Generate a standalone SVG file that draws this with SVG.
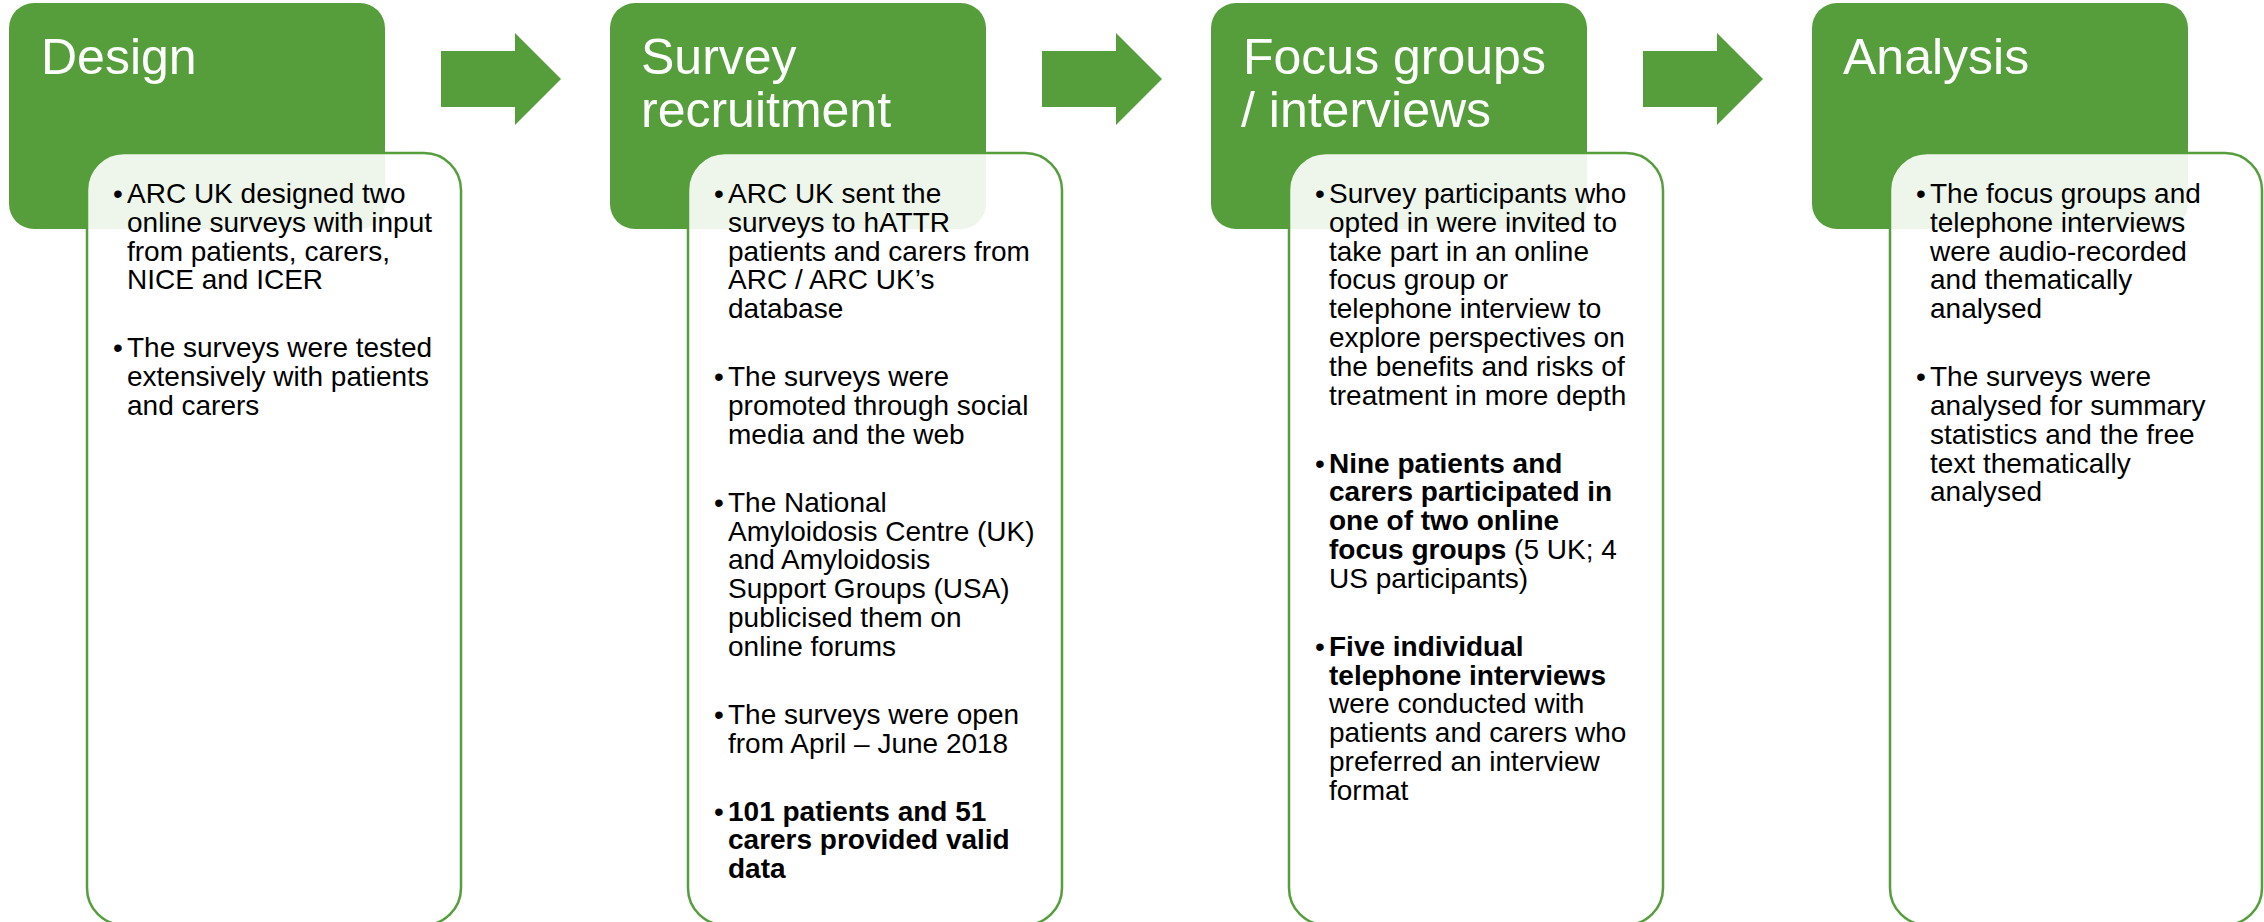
<svg xmlns="http://www.w3.org/2000/svg" width="2264" height="922" viewBox="0 0 2264 922">
<style>
.hdr{fill:#559e3b}
.card{fill:#ffffff;fill-opacity:0.9;stroke:#559e3b;stroke-width:2.5}
.arr{fill:#559e3b}
.ht{font-family:"Liberation Sans",Arial,sans-serif;font-size:50px;fill:#ffffff}
.bt{font-family:"Liberation Sans",Arial,sans-serif;font-size:28px;fill:#000000}
.b{font-weight:bold}
</style>
<rect width="2264" height="922" fill="#ffffff"/>
<g id="connectors">
<polygon class="arr" points="441,51 515,51 515,33 561,79 515,125 515,107 441,107"/>
<polygon class="arr" points="1042,51 1116,51 1116,33 1162,79 1116,125 1116,107 1042,107"/>
<polygon class="arr" points="1643,51 1717,51 1717,33 1763,79 1717,125 1717,107 1643,107"/>
</g>
<g id="design">
<rect class="hdr" x="9" y="3" width="376" height="226" rx="25"/>
<text class="ht" x="41" y="74">Design</text>
<rect class="card" x="87" y="153" width="374" height="772" rx="37"/>
<text class="bt" x="113" y="203">•</text>
<text class="bt"><tspan x="127" y="203">ARC UK designed two</tspan><tspan x="127" y="231.8">online surveys with input</tspan><tspan x="127" y="260.6">from patients, carers,</tspan><tspan x="127" y="289.4">NICE and ICER</tspan></text>
<text class="bt" x="113" y="357.4">•</text>
<text class="bt"><tspan x="127" y="357.4">The surveys were tested</tspan><tspan x="127" y="386.2">extensively with patients</tspan><tspan x="127" y="415">and carers</tspan></text>
</g>
<g id="survey-recruitment">
<rect class="hdr" x="610" y="3" width="376" height="226" rx="25"/>
<text class="ht"><tspan x="641" y="74">Survey</tspan><tspan x="641" y="127">recruitment</tspan></text>
<rect class="card" x="688" y="153" width="374" height="772" rx="37"/>
<text class="bt" x="714" y="203">•</text>
<text class="bt"><tspan x="728" y="203">ARC UK sent the</tspan><tspan x="728" y="231.8">surveys to hATTR</tspan><tspan x="728" y="260.6">patients and carers from</tspan><tspan x="728" y="289.4">ARC / ARC UK’s</tspan><tspan x="728" y="318.2">database</tspan></text>
<text class="bt" x="714" y="386.2">•</text>
<text class="bt"><tspan x="728" y="386.2">The surveys were</tspan><tspan x="728" y="415">promoted through social</tspan><tspan x="728" y="443.8">media and the web</tspan></text>
<text class="bt" x="714" y="511.8">•</text>
<text class="bt"><tspan x="728" y="511.8">The National</tspan><tspan x="728" y="540.6">Amyloidosis Centre (UK)</tspan><tspan x="728" y="569.4">and Amyloidosis</tspan><tspan x="728" y="598.2">Support Groups (USA)</tspan><tspan x="728" y="627">publicised them on</tspan><tspan x="728" y="655.8">online forums</tspan></text>
<text class="bt" x="714" y="723.8">•</text>
<text class="bt"><tspan x="728" y="723.8">The surveys were open</tspan><tspan x="728" y="752.6">from April – June 2018</tspan></text>
<text class="bt" x="714" y="820.6">•</text>
<text class="bt b"><tspan x="728" y="820.6">101 patients and 51</tspan><tspan x="728" y="849.4">carers provided valid</tspan><tspan x="728" y="878.2">data</tspan></text>
</g>
<g id="focus-groups">
<rect class="hdr" x="1211" y="3" width="376" height="226" rx="25"/>
<text class="ht"><tspan x="1243" y="74">Focus groups</tspan><tspan x="1241" y="127">/ interviews</tspan></text>
<rect class="card" x="1289" y="153" width="374" height="772" rx="37"/>
<text class="bt" x="1315" y="203">•</text>
<text class="bt"><tspan x="1329" y="203">Survey participants who</tspan><tspan x="1329" y="231.8">opted in were invited to</tspan><tspan x="1329" y="260.6">take part in an online</tspan><tspan x="1329" y="289.4">focus group or</tspan><tspan x="1329" y="318.2">telephone interview to</tspan><tspan x="1329" y="347">explore perspectives on</tspan><tspan x="1329" y="375.8">the benefits and risks of</tspan><tspan x="1329" y="404.6">treatment in more depth</tspan></text>
<text class="bt" x="1315" y="472.6">•</text>
<text class="bt"><tspan x="1329" y="472.6" class="b">Nine patients and</tspan><tspan x="1329" y="501.4" class="b">carers participated in</tspan><tspan x="1329" y="530.2" class="b">one of two online</tspan><tspan x="1329" y="559"><tspan class="b">focus groups</tspan> (5 UK; 4</tspan><tspan x="1329" y="587.8">US participants)</tspan></text>
<text class="bt" x="1315" y="655.8">•</text>
<text class="bt"><tspan x="1329" y="655.8" class="b">Five individual</tspan><tspan x="1329" y="684.6" class="b">telephone interviews</tspan><tspan x="1329" y="713.4">were conducted with</tspan><tspan x="1329" y="742.2">patients and carers who</tspan><tspan x="1329" y="771">preferred an interview</tspan><tspan x="1329" y="799.8">format</tspan></text>
</g>
<g id="analysis">
<rect class="hdr" x="1812" y="3" width="376" height="226" rx="25"/>
<text class="ht" x="1843" y="74">Analysis</text>
<rect class="card" x="1890" y="153" width="372" height="772" rx="37"/>
<text class="bt" x="1916" y="203">•</text>
<text class="bt"><tspan x="1930" y="203">The focus groups and</tspan><tspan x="1930" y="231.8">telephone interviews</tspan><tspan x="1930" y="260.6">were audio-recorded</tspan><tspan x="1930" y="289.4">and thematically</tspan><tspan x="1930" y="318.2">analysed</tspan></text>
<text class="bt" x="1916" y="386.2">•</text>
<text class="bt"><tspan x="1930" y="386.2">The surveys were</tspan><tspan x="1930" y="415">analysed for summary</tspan><tspan x="1930" y="443.8">statistics and the free</tspan><tspan x="1930" y="472.6">text thematically</tspan><tspan x="1930" y="501.4">analysed</tspan></text>
</g>
</svg>
